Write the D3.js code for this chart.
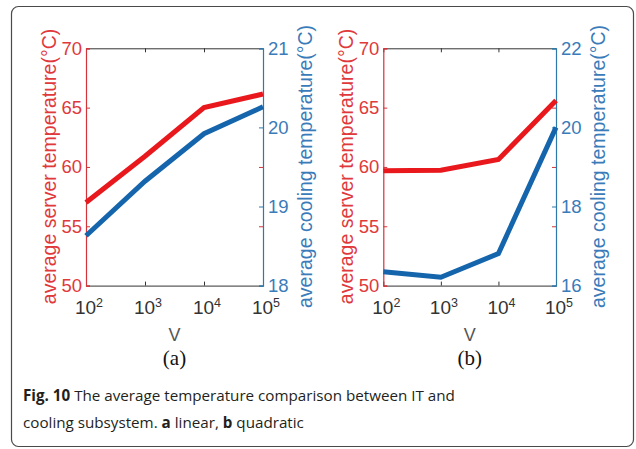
<!DOCTYPE html>
<html>
<head>
<meta charset="utf-8">
<script src="https://cdn.jsdelivr.net/npm/d3@7"></script>
<style>
  html, body { margin: 0; padding: 0; background: #fff; }
  svg { display: block; }
</style>
</head>
<body>
<svg id="fig" width="636" height="449"></svg>
<script>
// V values on the log axis and their decade exponents
const vValues = [1e2, 1e3, 1e4, 1e5];
const vExponents = [2, 3, 4, 5];

// (a) linear
const serverA = [57.0, 60.9, 65.0, 66.15];
const coolingA = [18.63, 19.32, 19.92, 20.26];
const serverTicksA = [50, 55, 60, 65, 70];
const coolingTicksA = [18, 19, 20, 21];

// (b) quadratic
const serverB = [59.67, 59.73, 60.63, 65.6];
const coolingB = [16.35, 16.21, 16.81, 20.0];
const serverTicksB = [50, 55, 60, 65, 70];
const coolingTicksB = [16, 18, 20, 22];

const panels = [
  { tag: "(a)", left: 86, right: 263, server: serverA, cooling: coolingA,
    sTicks: serverTicksA, cTicks: coolingTicksA, cDomain: [18, 21] },
  { tag: "(b)", left: 383.3, right: 556, server: serverB, cooling: coolingB,
    sTicks: serverTicksB, cTicks: coolingTicksB, cDomain: [16, 22] }
];

const plotTop = 48.3, plotBottom = 285.6;
const RED = "#e8181c", BLUE = "#1565ad";
const RED_AXIS = "#d3343a", BLUE_AXIS = "#2f78aa";
const RED_TEXT = "#e0393c", BLUE_TEXT = "#3a7bb9";
const sans = "'Liberation Sans', Arial, sans-serif";

const svg = d3.select("#fig");

// frame around the figure
svg.append("rect")
  .attr("x", 11.5).attr("y", 6.5).attr("width", 622).attr("height", 440)
  .attr("rx", 7).attr("fill", "none").attr("stroke", "#4a4a4a").attr("stroke-width", 1.2);

panels.forEach(p => {
  const x = d3.scaleLog().domain([1e2, 1e5]).range([p.left, p.right]);
  const yS = d3.scaleLinear().domain([50, 70]).range([plotBottom, plotTop]);
  const yC = d3.scaleLinear().domain(p.cDomain).range([plotBottom, plotTop]);
  const g = svg.append("g");

  // top and bottom frame lines with inward decade ticks
  const xAxisBottom = d3.axisBottom(x).tickValues(vValues.slice(1, 3)).tickSize(-4).tickFormat("");
  const xAxisTop = d3.axisTop(x).tickValues(vValues.slice(1, 3)).tickSize(-4).tickFormat("");
  [[xAxisBottom, plotBottom], [xAxisTop, plotTop]].forEach(([ax, yy]) => {
    const a = g.append("g").attr("transform", `translate(0,${yy})`).call(ax);
    a.select(".domain").attr("stroke", "#333").attr("stroke-width", 1);
    a.selectAll(".tick line").attr("stroke", "#333");
  });

  // left (server) axis
  const la = g.append("g").attr("transform", `translate(${p.left},0)`)
    .call(d3.axisLeft(yS).tickValues(p.sTicks).tickSize(-4).tickPadding(4).tickFormat(d3.format("d")));
  la.select(".domain").attr("stroke", RED_AXIS).attr("stroke-width", 1.2);
  la.selectAll(".tick line").attr("stroke", RED_AXIS);
  la.selectAll(".tick text").attr("fill", RED_TEXT).style("font-family", sans).style("font-size", "18.5px");

  // left ticks repeated on the right edge
  const lr = g.append("g").attr("transform", `translate(${p.right},0)`)
    .call(d3.axisRight(yS).tickValues(p.sTicks.slice(1, -1)).tickSize(-4).tickFormat(""));
  lr.select(".domain").remove();
  lr.selectAll(".tick line").attr("stroke", RED_AXIS);

  // right (cooling) axis
  const ra = g.append("g").attr("transform", `translate(${p.right},0)`)
    .call(d3.axisRight(yC).tickValues(p.cTicks).tickSize(-4).tickPadding(5).tickFormat(d3.format("d")));
  ra.select(".domain").attr("stroke", BLUE_AXIS).attr("stroke-width", 1.2);
  ra.selectAll(".tick line").attr("stroke", BLUE_AXIS);
  ra.selectAll(".tick text").attr("fill", BLUE_TEXT).style("font-family", sans).style("font-size", "18.5px");

  // x tick labels 10^n
  vValues.forEach((v, i) => {
    const t = g.append("text").attr("x", x(v) + 3).attr("y", plotBottom + 28)
      .attr("text-anchor", "middle").attr("fill", "#333")
      .style("font-family", sans).style("font-size", "19px");
    t.append("tspan").text("10");
    t.append("tspan").attr("dy", -7).style("font-size", "12.5px").text(vExponents[i]);
  });

  // data lines
  const line = (yScale) => d3.line().x((d, i) => x(vValues[i])).y(d => yScale(d));
  g.append("path").datum(p.cooling).attr("d", line(yC))
    .attr("fill", "none").attr("stroke", BLUE).attr("stroke-width", 5).attr("stroke-linejoin", "miter");
  g.append("path").datum(p.server).attr("d", line(yS))
    .attr("fill", "none").attr("stroke", RED).attr("stroke-width", 5).attr("stroke-linejoin", "miter");

  // axis titles
  const cy = (plotTop + plotBottom) / 2 - 0.5;
  g.append("text")
    .attr("transform", `translate(${p.left - 37},${cy}) rotate(-90)`)
    .attr("text-anchor", "middle").attr("dy", "0.35em").attr("fill", RED_TEXT)
    .style("font-family", sans).style("font-size", "19.5px")
    .text("average server temperature(°C)");
  g.append("text")
    .attr("transform", `translate(${p.right + 42},${cy}) rotate(-90)`)
    .attr("text-anchor", "middle").attr("dy", "0.35em").attr("fill", BLUE_TEXT)
    .style("font-family", sans).style("font-size", "19.5px")
    .text("average cooling temperature(°C)");

  const cx = (p.left + p.right) / 2;
  g.append("text").attr("x", cx).attr("y", plotBottom + 55).attr("text-anchor", "middle")
    .attr("fill", "#555").style("font-family", sans).style("font-size", "18px").text("V");
  g.append("text").attr("x", cx).attr("y", plotBottom + 79).attr("text-anchor", "middle")
    .attr("fill", "#111").style("font-family", "'Liberation Serif', 'Times New Roman', serif")
    .style("font-size", "21px").text(p.tag);
});

// caption
const cap = svg.append("g").style("font-family", "'Open Sans', sans-serif").style("font-size", "15.2px").attr("fill", "#231f20");
const l1 = cap.append("text").attr("x", 23).attr("y", 401);
l1.append("tspan").style("font-weight", "bold").text("Fig. 10");
l1.append("tspan").text(" The average temperature comparison between IT and");
const l2 = cap.append("text").attr("x", 23).attr("y", 428);
l2.append("tspan").text("cooling subsystem. ");
l2.append("tspan").style("font-weight", "bold").text("a");
l2.append("tspan").text(" linear, ");
l2.append("tspan").style("font-weight", "bold").text("b");
l2.append("tspan").text(" quadratic");
</script>
</body>
</html>
